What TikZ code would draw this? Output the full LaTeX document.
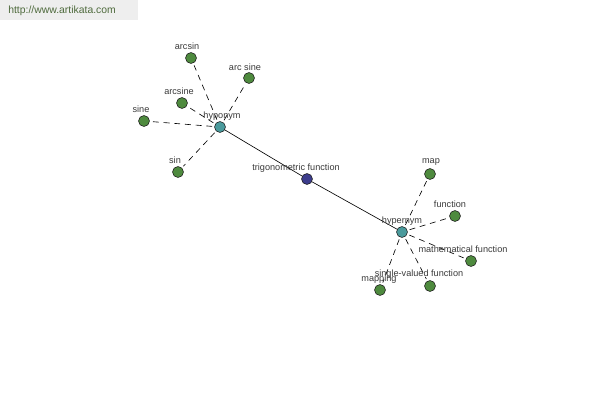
\documentclass[tikz,border=0pt]{standalone}
\usepackage{fontspec}
\setmainfont{Liberation Sans}
\begin{document}
\begin{tikzpicture}[x=0.025cm,y=-0.025cm,
  leaf/.style={circle,draw=nodeline,line width=0.4pt,fill=leafgreen,minimum size=7.8pt,inner sep=0pt},
  hub/.style={circle,draw=nodeline,line width=0.4pt,fill=hubteal,minimum size=7.8pt,inner sep=0pt},
  center/.style={circle,draw=nodeline,line width=0.4pt,fill=centerblue,minimum size=7.8pt,inner sep=0pt},
  lbl/.style={font=\fontsize{6.5}{7}\selectfont,text=labelgray,inner sep=0pt},
  dedge/.style={line width=0.45pt,dash pattern=on 4.2pt off 3.4pt,shorten >=1.5pt,shorten <=1.5pt},
  sedge/.style={line width=0.45pt}]
\definecolor{leafgreen}{HTML}{4E8A3E}
\definecolor{hubteal}{HTML}{4A9A9C}
\definecolor{centerblue}{HTML}{3C3C8C}
\definecolor{nodeline}{HTML}{202020}
\definecolor{labelgray}{HTML}{3A3A3A}
\definecolor{headgray}{HTML}{EEEEEE}
\definecolor{headtext}{HTML}{4E6A3C}
\useasboundingbox[fill=white] (0,0) rectangle (600,400);
\fill[headgray] (0,0) rectangle (138,20);
\node[font=\fontsize{7.4}{9}\selectfont,text=headtext,inner sep=0pt,anchor=west] (url) at (8,11) {http://www.artikata.com};
% nodes
\node[hub] (hypo) at (220,127) {};
\node[center] (trig) at (307,179) {};
\node[hub] (hyper) at (402,232) {};
\node[leaf] (arcsin) at (191,58) {};
\node[leaf] (arcsine2) at (249,78) {};
\node[leaf] (arcsine) at (182,103) {};
\node[leaf] (sine) at (144,121) {};
\node[leaf] (sin) at (178,172) {};
\node[leaf] (map) at (430,174) {};
\node[leaf] (function) at (455,216) {};
\node[leaf] (mathf) at (471,261) {};
\node[leaf] (svf) at (430,286) {};
\node[leaf] (mapping) at (380,290) {};
% edges
\draw[sedge] (hypo) -- (trig) -- (hyper);
\foreach \n in {arcsin,arcsine2,arcsine,sine,sin} \draw[dedge] (hypo) -- (\n);
\foreach \n in {map,function,mathf,svf,mapping} \draw[dedge] (hyper) -- (\n);
% labels
\node[lbl] (lhypo) at (222,116) {hyponym};
\node[lbl] (ltrig) at (296,168) {trigonometric function};
\node[lbl] (lhyper) at (402,221) {hypernym};
\node[lbl] (larcsin) at (187,46) {arcsin};
\node[lbl] (larcsine2) at (245,67) {arc sine};
\node[lbl] (larcsine) at (179,91) {arcsine};
\node[lbl] (lsine) at (141,109) {sine};
\node[lbl] (lsin) at (175,160) {sin};
\node[lbl] (lmap) at (431,162) {map};
\node[lbl] (lfunction) at (450,204) {function};
\node[lbl] (lmathf) at (463,249) {mathematical function};
\node[lbl] (lsvf) at (419,274) {single-valued function};
\node[lbl] (lmapping) at (379,279) {mapping};
\end{tikzpicture}
\end{document}
